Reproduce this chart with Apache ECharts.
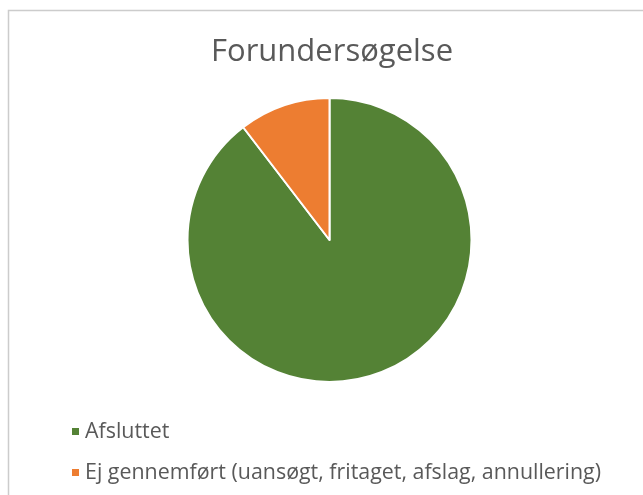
<!DOCTYPE html>
<html>
<head>
<meta charset="utf-8">
<script src="https://cdn.jsdelivr.net/npm/echarts@6/dist/echarts.min.js"></script>
<style>
  html, body { margin: 0; padding: 0; background: #fff; }
  #main { width: 643px; height: 495px; }
</style>
</head>
<body>
<div id="main"></div>
<script>
// data
var categories = ['Afsluttet', 'Ej gennemført (uansøgt, fritaget, afslag, annullering)'];
var values = [89.6, 10.4];
var colors = ['#548235', '#ED7D31'];

var myChart = echarts.init(document.getElementById('main'));

var option = {
    backgroundColor: '#fff',
    title: {
        text: 'Forundersøgelse',
        left: 206,
        top: 32,
        textStyle: {
            fontFamily: 'Open Sans',
            fontSize: 31,
            fontWeight: 'normal',
            color: '#595959'
        }
    },
    legend: {
        orient: 'vertical',
        left: 65,
        top: 416,
        itemWidth: 9,
        itemHeight: 9,
        itemGap: 20,
        icon: 'rect',
        data: categories,
        textStyle: {
            fontFamily: 'Open Sans',
            fontSize: 21.4,
            color: '#595959'
        }
    },
    graphic: [{
        type: 'polyline',
        shape: { points: [[8.5, 495], [8.5, 10.5], [643, 10.5]] },
        style: { fill: null, stroke: '#cccccc', lineWidth: 1.5 },
        z: 100
    }],
    series: [{
        type: 'pie',
        radius: 142,
        center: [329.5, 240],
        startAngle: 90,
        clockwise: true,
        label: { show: false },
        labelLine: { show: false },
        silent: true,
        itemStyle: { borderColor: '#fff', borderWidth: 2 },
        data: categories.map(function (name, i) {
            return { name: name, value: values[i], itemStyle: { color: colors[i] } };
        })
    }]
};

myChart.setOption(option);
</script>
</body>
</html>
